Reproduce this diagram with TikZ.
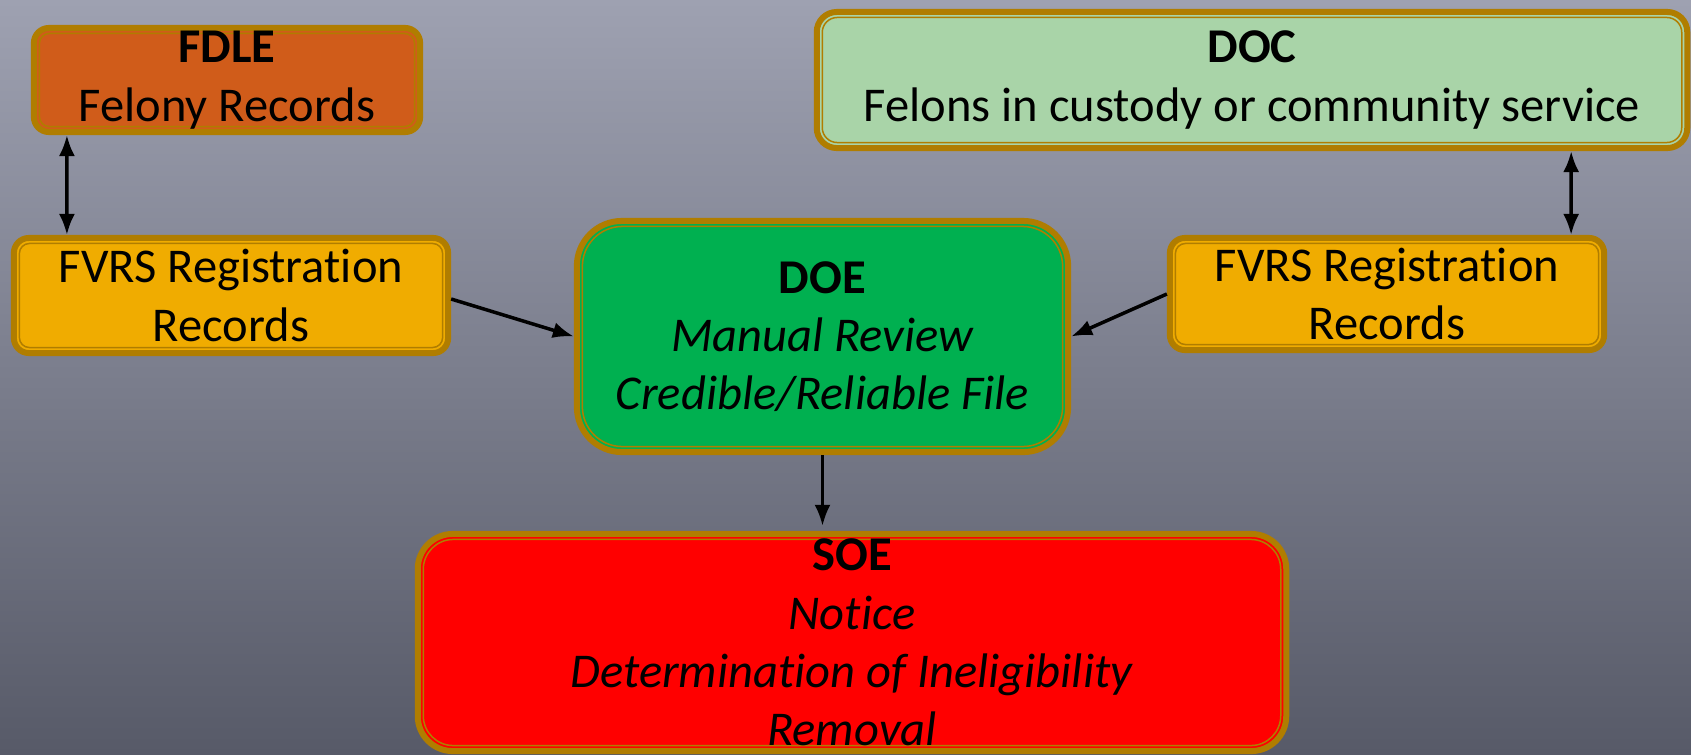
\documentclass[tikz,border=0pt]{standalone}
\usepackage{fontspec}
\setmainfont{Carlito}[Ligatures=NoCommon]
\usepackage{xcolor}
\usetikzlibrary{arrows.meta}

\definecolor{rimgold}{HTML}{B07D00}
\definecolor{fdleorange}{HTML}{D05C1A}
\definecolor{fvrsamber}{HTML}{F0AC00}
\definecolor{docgreen}{HTML}{A9D4A8}
\definecolor{doegreen}{HTML}{00B050}
\definecolor{soered}{HTML}{FF0000}
\definecolor{bgtop}{HTML}{9EA1B1}
\definecolor{bgbot}{HTML}{575A68}

\begin{document}
\begin{tikzpicture}[
  x=0.01cm, y=-0.01cm,
  agency/.style={rectangle, draw=rimgold, line width=0.06cm, rounded corners=#1, align=center, inner sep=0pt,
    font=\fontsize{13.8}{16.6}\selectfont,
    path picture={\draw[rimgold, line width=0.015cm, rounded corners=#1-0.05cm]
      ([shift={(0.055cm,-0.055cm)}]path picture bounding box.north west) rectangle
      ([shift={(-0.055cm,0.055cm)}]path picture bounding box.south east);}},
  link/.style={-{Latex[length=0.21cm,width=0.16cm]}, line width=0.035cm},
  duplex/.style={{Latex[length=0.21cm,width=0.16cm]}-{Latex[length=0.21cm,width=0.16cm]}, line width=0.035cm}
]
  % Background
  \useasboundingbox (0,0) rectangle (1691,754);
  \fill[top color=bgtop, bottom color=bgbot] (0,0) rectangle (1691,754);

  % Sources
  \node[agency=0.15cm, fill=fdleorange, minimum width=3.86cm, minimum height=1.04cm] (fdle) at (227,80)
    {\textbf{FDLE}\\Felony Records};
  \node[agency=0.2cm, fill=docgreen, minimum width=8.70cm, minimum height=1.36cm] (doc) at (1252,80)
    {\textbf{DOC}\\Felons in custody or community service};

  % Registration records
  \node[agency=0.15cm, fill=fvrsamber, minimum width=4.34cm, minimum height=1.15cm] (lfvrs) at (231,295.5)
    {FVRS Registration\\Records};
  \node[agency=0.15cm, fill=fvrsamber, minimum width=4.34cm, minimum height=1.12cm] (rfvrs) at (1387,294)
    {FVRS Registration\\Records};

  % Review and action
  \node[agency=0.45cm, fill=doegreen, minimum width=4.91cm, minimum height=2.31cm] (doe) at (822.5,336.5)
    {\textbf{DOE}\\\textit{Manual Review}\\\textit{Credible/Reliable File}};
  \node[agency=0.35cm, fill=soered, minimum width=8.68cm, minimum height=2.17cm] (soe) at (852,642.5)
    {\textbf{SOE}\\\textit{Notice}\\\textit{Determination of Ineligibility}\\\textit{Removal}};

  % Arrows
  \draw[duplex] ([xshift=0.36cm]fdle.south west) -- ([xshift=0.56cm]lfvrs.north west);
  \draw[duplex] ([xshift=-1.19cm]doc.south east) -- ([xshift=-0.36cm]rfvrs.north east);
  \draw[link] ([yshift=-0.035cm]lfvrs.east) -- (doe.west);
  \draw[link] (rfvrs.west) -- (doe.east);
  \draw[link, shorten >=0.05cm] (doe.south) -- (doe.south |- soe.north);
\end{tikzpicture}
\end{document}
